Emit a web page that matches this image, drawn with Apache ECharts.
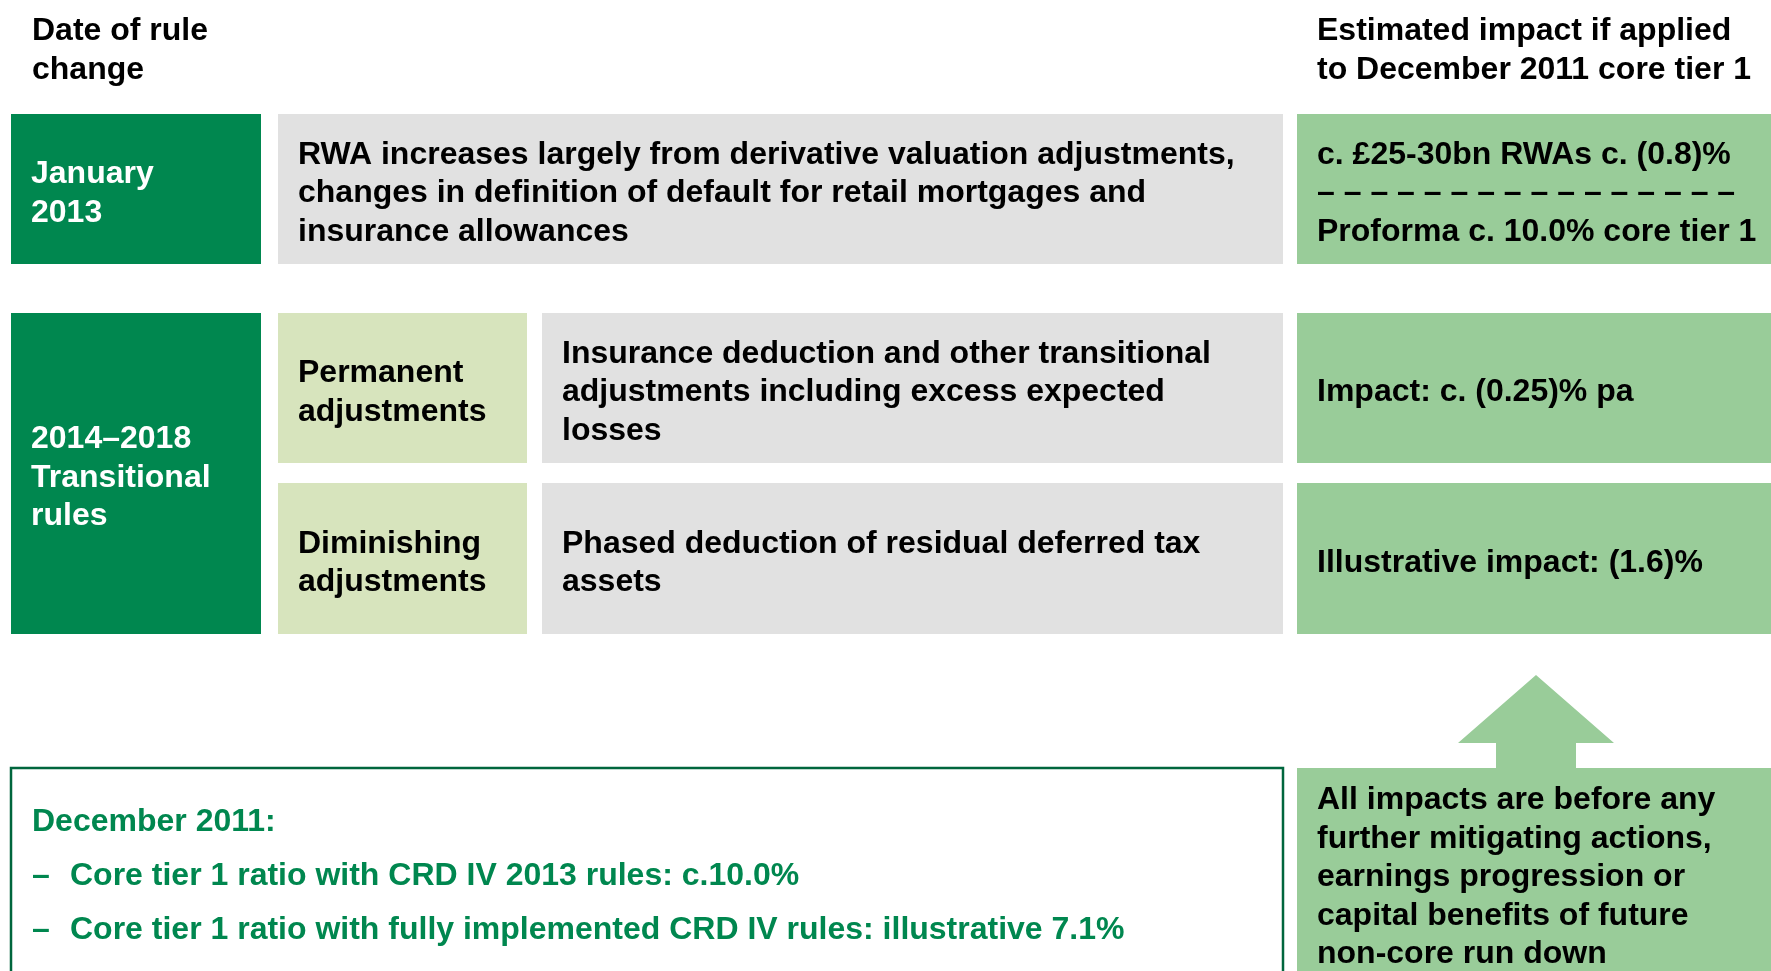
<!DOCTYPE html>
<html lang="en">
  <head>
    <meta charset="UTF-8" />
    <meta name="viewport" content="width=device-width, initial-scale=1.0" />
    <title>CRD IV rule changes</title>
    <script src="https://cdn.jsdelivr.net/npm/echarts@6/dist/echarts.min.js"></script>
    <style>
      html,
      body {
        margin: 0;
        padding: 0;
        background: #fff;
      }
      #chart {
        width: 1771px;
        height: 971px;
      }
    </style>
  </head>
  <body>
    <div id="chart"></div>
    <script>
      // texts of the diagram
      var headers = [
        "Date of rule\nchange",
        "Estimated impact if applied\nto December 2011 core tier 1",
      ];
      var dates = ["January\n2013", "2014–2018\nTransitional\nrules"];
      var adjustmentTypes = ["Permanent\nadjustments", "Diminishing\nadjustments"];
      var descriptions = [
        "RWA increases largely from derivative valuation adjustments,\nchanges in definition of default for retail mortgages and\ninsurance allowances",
        "Insurance deduction and other transitional\nadjustments including excess expected\nlosses",
        "Phased deduction of residual deferred tax\nassets",
      ];
      var impacts = [
        "c. £25-30bn RWAs c. (0.8)%\n– – – – – – – – – – – – – – – –\nProforma c. 10.0% core tier 1",
        "Impact: c. (0.25)% pa",
        "Illustrative impact: (1.6)%",
      ];
      var summaryTitle = "December 2011:";
      var summaryPoints = [
        "Core tier 1 ratio with CRD IV 2013 rules: c.10.0%",
        "Core tier 1 ratio with fully implemented CRD IV rules: illustrative 7.1%",
      ];
      var caveat =
        "All impacts are before any\nfurther mitigating actions,\nearnings progression or\ncapital benefits of future\nnon-core run down";

      // layout (pixel units of the hidden axes)
      var W = 1771;
      var H = 971;
      var cols = [[11, 261], [278, 527], [542, 1283], [1297, 1771]];
      var rows = [[114, 264], [313, 463], [483, 634], [768, 1010]];
      var pad = 20;
      var LINE = 38.4;
      var TEXT_DY = 3.5; // small nudge so the font sits like the original
      var FONT = 'bold 32px "Liberation Sans", Arial, sans-serif';
      var colours = {
        dark: "#00874f",
        gray: "#e1e1e1",
        pale: "#d7e4bd",
        light: "#99cc99",
        border: "#00663d",
        ink: "#000000",
        white: "#ffffff",
      };

      var boxes = [
        { c: [0, 0], r: [0, 0], fill: "dark", text: dates[0], color: "white" },
        { c: [1, 2], r: [0, 0], fill: "gray", text: descriptions[0], color: "ink" },
        { c: [3, 3], r: [0, 0], fill: "light", text: impacts[0], color: "ink" },
        { c: [0, 0], r: [1, 2], fill: "dark", text: dates[1], color: "white" },
        { c: [1, 1], r: [1, 1], fill: "pale", text: adjustmentTypes[0], color: "ink" },
        { c: [2, 2], r: [1, 1], fill: "gray", text: descriptions[1], color: "ink" },
        { c: [3, 3], r: [1, 1], fill: "light", text: impacts[1], color: "ink" },
        { c: [1, 1], r: [2, 2], fill: "pale", text: adjustmentTypes[1], color: "ink" },
        { c: [2, 2], r: [2, 2], fill: "gray", text: descriptions[2], color: "ink" },
        { c: [3, 3], r: [2, 2], fill: "light", text: impacts[2], color: "ink" },
        { c: [0, 2], r: [3, 3], fill: null, stroke: "border", text: "" },
        { c: [3, 3], r: [3, 3], fill: "light", text: "" },
      ];

      // free texts: x, centre of first line
      var labels = [
        { x: 32, y: 28, text: headers[0], color: "ink" },
        { x: 1317, y: 28, text: headers[1], color: "ink" },
        { x: 32, y: 819, text: summaryTitle, color: "dark" },
        { x: 32, y: 873, text: "–", color: "dark" },
        { x: 70, y: 873, text: summaryPoints[0], color: "dark" },
        { x: 32, y: 927, text: "–", color: "dark" },
        { x: 70, y: 927, text: summaryPoints[1], color: "dark" },
        { x: 1317, y: 797, text: caveat, color: "ink" },
      ];

      // up arrow above the caveat box
      var arrow = [
        [1536, 675],
        [1614, 743],
        [1576, 743],
        [1576, 769],
        [1496, 769],
        [1496, 743],
        [1458, 743],
      ];

      function renderBox(params, api) {
        var b = boxes[api.value(0)];
        var p0 = api.coord([cols[b.c[0]][0], rows[b.r[0]][0]]);
        var p1 = api.coord([cols[b.c[1]][1], rows[b.r[1]][1]]);
        var children = [
          {
            type: "rect",
            shape: { x: p0[0], y: p0[1], width: p1[0] - p0[0], height: p1[1] - p0[1] },
            style: b.fill
              ? { fill: colours[b.fill] }
              : { fill: "none", stroke: colours[b.stroke], lineWidth: 2.5 },
          },
        ];
        if (b.text) {
          children.push({
            type: "text",
            style: {
              text: b.text,
              x: p0[0] + pad,
              y: (p0[1] + p1[1]) / 2 + 1 + TEXT_DY,
              font: FONT,
              lineHeight: LINE,
              fill: colours[b.color],
              align: "left",
              verticalAlign: "middle",
            },
          });
        }
        return { type: "group", children: children };
      }

      function renderLabel(params, api) {
        var l = labels[api.value(0)];
        var p = api.coord([l.x, l.y]);
        return {
          type: "text",
          style: {
            text: l.text,
            x: p[0],
            y: p[1] - LINE / 2 + TEXT_DY,
            font: FONT,
            lineHeight: LINE,
            fill: colours[l.color],
            align: "left",
            verticalAlign: "top",
          },
        };
      }

      function renderArrow(params, api) {
        return {
          type: "polygon",
          shape: { points: arrow.map(function (pt) { return api.coord(pt); }) },
          style: { fill: colours.light },
        };
      }

      var chart = echarts.init(document.getElementById("chart"));
      chart.setOption({
        animation: false,
        backgroundColor: "#ffffff",
        grid: { left: 0, right: 0, top: 0, bottom: 0 },
        xAxis: { type: "value", min: 0, max: W, show: false },
        yAxis: { type: "value", min: 0, max: H, inverse: true, show: false },
        series: [
          {
            type: "custom",
            clip: false,
            renderItem: renderBox,
            data: boxes.map(function (b, i) { return [i]; }),
            silent: true,
          },
          {
            type: "custom",
            clip: false,
            renderItem: renderArrow,
            data: [[0]],
            silent: true,
          },
          {
            type: "custom",
            clip: false,
            renderItem: renderLabel,
            data: labels.map(function (l, i) { return [i]; }),
            silent: true,
          },
        ],
      });
      window.onresize = chart.resize;
    </script>
  </body>
</html>
